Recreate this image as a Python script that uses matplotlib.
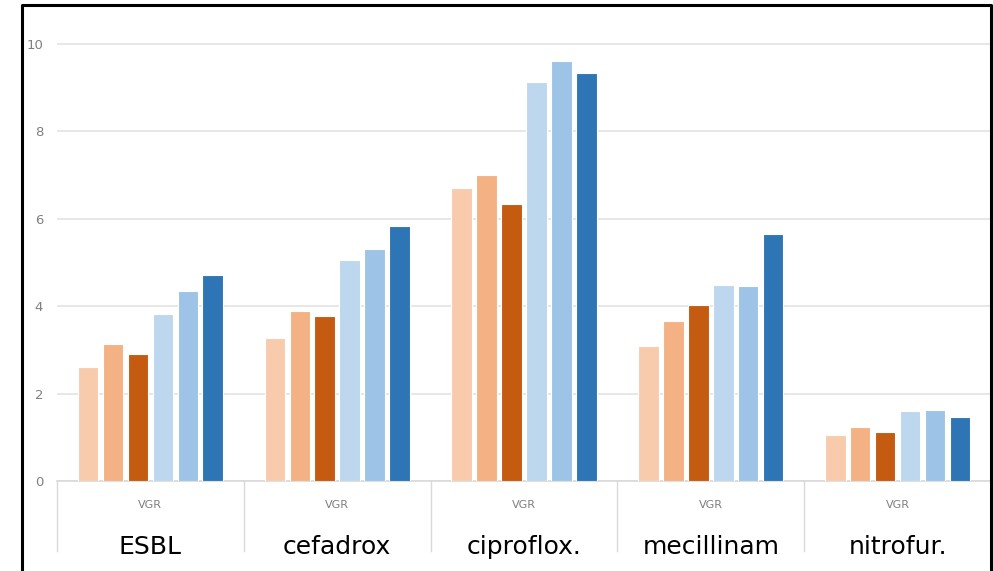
import matplotlib.pyplot as plt
import numpy as np

categories = ["ESBL", "cefadrox", "ciproflox.", "mecillinam", "nitrofur."]
sub_label = "VGR"
series = [
    [2.60, 3.27, 6.70, 3.09, 1.05],
    [3.14, 3.89, 7.00, 3.66, 1.24],
    [2.90, 3.78, 6.34, 4.03, 1.12],
    [3.82, 5.06, 9.13, 4.49, 1.60],
    [4.35, 5.31, 9.61, 4.46, 1.62],
    [4.72, 5.84, 9.34, 5.65, 1.46],
]
colors = ["#F8CBAD", "#F4B183", "#C55A11", "#BDD7EE", "#9DC3E6", "#2E75B6"]

W, H = 993, 571
fig = plt.figure(figsize=(W / 100, H / 100), dpi=100)
ymax = 10.1
ppu = (481 - 44) / 10.0
ax = fig.add_axes([57 / W, 1 - 481 / H, (991 - 57) / W, ppu * ymax / H])

x = np.arange(len(categories))
pitch = 0.1335
width = 0.11
for i, vals in enumerate(series):
    ax.bar(x + (i - 2.5) * pitch, vals, width, color=colors[i],
           edgecolor="white", linewidth=0.8, zorder=3)

ax.set_xlim(-0.5, len(categories) - 0.5)
ax.set_ylim(0, ymax)
ax.set_yticks([0, 2, 4, 6, 8, 10])
ax.set_xticks([])
ax.yaxis.grid(True, color="#E3E3E3", linewidth=1.2, zorder=0)
for s in ["top", "right", "left"]:
    ax.spines[s].set_visible(False)
ax.spines["bottom"].set_color("#D9D9D9")
ax.spines["bottom"].set_linewidth(1.2)
ax.tick_params(axis="y", length=0, colors="#7F7F7F", labelsize=9.5, pad=10)

# category separators and two-level labels
for b in np.arange(len(categories)) - 0.5:
    ax.plot([b, b], [0, -1.6], color="#D9D9D9", linewidth=1, clip_on=False)
for xi, name in zip(x, categories):
    ax.text(xi, -0.55, sub_label, ha="center", va="center", fontsize=8,
            color="#7F7F7F")
    ax.text(xi, -1.5, name, ha="center", va="center", fontsize=18,
            color="black")

# outer frame (bottom cut off)
fx = [22 / W, 22 / W, 991 / W, 991 / W]
fy = [0, 1 - 5 / H, 1 - 5 / H, 0]
fig.add_artist(plt.Line2D(fx, fy, color="black", linewidth=2.2))

fig.savefig("out.png", dpi=100)
